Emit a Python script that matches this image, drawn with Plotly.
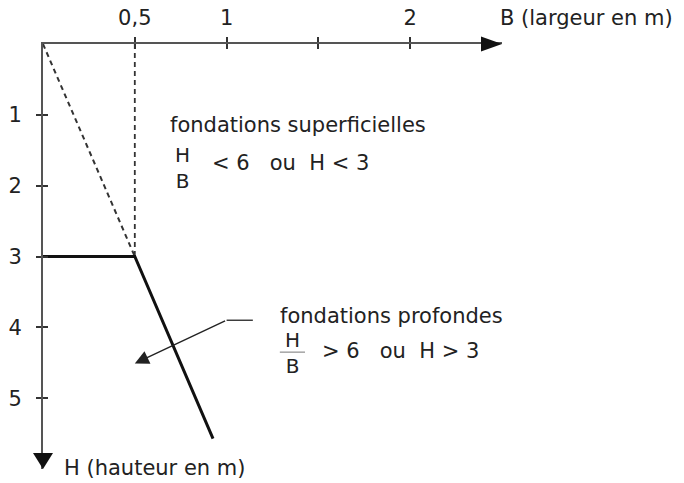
"""
Fondations superficielles / profondes - critere H/B
"""

import plotly.graph_objects as go

# axes
B_ticks = [0.5, 1, 1.5, 2]
B_tick_labels = ["0,5", "1", "", "2"]
H_ticks = [1, 2, 3, 4, 5]
H_tick_labels = ["1", "2", "3", "4", "5"]

# limite H/B = 6 et H = 3
limit_B = [0, 0.5, 0.926]
limit_H = [3, 3, 5.57]

# lignes de construction (pointillés)
ratio_B = [0, 0.5]
ratio_H = [0, 3]
vertical_B = [0.5, 0.5]
vertical_H = [0, 3]

# flèche vers la zone "fondations profondes"
pointer_B = [1.143, 1.0, 0.50]
pointer_H = [3.9, 3.9, 4.51]

INK = "#111111"
AXIS = "#555555"
TEXT = "#222222"
FONT = "DejaVu Sans"

fig = go.Figure()

fig.add_trace(go.Scatter(
    x=ratio_B, y=ratio_H, mode="lines",
    line=dict(color="#333333", width=2, dash="5px,4px"),
    hoverinfo="skip",
))
fig.add_trace(go.Scatter(
    x=vertical_B, y=vertical_H, mode="lines",
    line=dict(color="#333333", width=1.8, dash="5px,4px"),
    hoverinfo="skip",
))
fig.add_trace(go.Scatter(
    x=limit_B, y=limit_H, mode="lines",
    line=dict(color=INK, width=3),
    hoverinfo="skip",
))
fig.add_trace(go.Scatter(
    x=pointer_B[:2], y=pointer_H[:2], mode="lines",
    line=dict(color="#333333", width=1.4),
    hoverinfo="skip",
))
# dummy trace so the overlay axes (crossing ticks) get drawn
fig.add_trace(go.Scatter(x=[None], y=[None], xaxis="x2", yaxis="y2", hoverinfo="skip"))

fig.add_annotation(
    x=pointer_B[2], y=pointer_H[2], ax=pointer_B[1], ay=pointer_H[1],
    xref="x", yref="y", axref="x", ayref="y",
    text="", showarrow=True, arrowhead=2, arrowsize=2, arrowwidth=1.4,
    arrowcolor="#222222",
)

# pointes de flèche des axes
fig.add_shape(type="path", xref="paper", yref="paper",
              xsizemode="pixel", ysizemode="pixel", xanchor=1, yanchor=1,
              path="M0,0 L-21,7.5 L-21,-7.5 Z", fillcolor=INK, line_width=0)
fig.add_shape(type="path", xref="paper", yref="paper",
              xsizemode="pixel", ysizemode="pixel", xanchor=0, yanchor=0,
              path="M0,0 L-10,16 L10,16 Z", fillcolor=INK, line_width=0)

# fraction bar H/B (profondes)
fig.add_shape(type="line", x0=1.29, x1=1.427, y0=4.35, y1=4.35,
              line=dict(color="#777777", width=1))

txt = dict(size=21, color=TEXT, family=FONT)
frac = dict(size=20, color=TEXT, family=FONT)
fig.add_annotation(x=0.991, y=1.061, xref="paper", yref="paper", text="B (largeur en m)",
                   showarrow=False, xanchor="left", yanchor="middle", font=txt)
fig.add_annotation(x=0.041, y=0.0024, xref="paper", yref="paper", text="H (hauteur en m)",
                   showarrow=False, xanchor="left", yanchor="middle", font=txt)

fig.add_annotation(x=0.681, y=1.145, text="fondations superficielles",
                   showarrow=False, xanchor="left", font=txt)
fig.add_annotation(x=0.76, y=1.748, text="H<br>B", showarrow=False, font=frac)
fig.add_annotation(x=0.909, y=1.685, text="&lt; 6   ou  H &lt; 3",
                   showarrow=False, xanchor="left", font=txt)

fig.add_annotation(x=1.279, y=3.84, text="fondations profondes",
                   showarrow=False, xanchor="left", font=txt)
fig.add_annotation(x=1.36, y=4.357, text="H<br>B", showarrow=False, font=frac)
fig.add_annotation(x=1.507, y=4.34, text="&gt; 6   ou  H &gt; 3",
                   showarrow=False, xanchor="left", font=txt)

tick_font = dict(size=21, color=TEXT, family=FONT)
common = dict(showgrid=False, zeroline=False, tickwidth=1.6, tickcolor="#333333",
              ticklen=5, automargin=False)

fig.update_layout(
    width=684, height=483,
    margin=dict(l=43, r=182, t=44, b=14),
    plot_bgcolor="white", paper_bgcolor="white",
    showlegend=False,
    font=dict(family=FONT, color=TEXT),
    xaxis=dict(range=[0, 2.5], side="top", showline=True, linecolor=AXIS, linewidth=2,
               tickvals=B_ticks, ticktext=B_tick_labels, ticks="outside",
               tickfont=tick_font, ticklabelstandoff=4, **common),
    yaxis=dict(range=[6, 0], showline=True, linecolor=AXIS, linewidth=2,
               tickvals=H_ticks, ticktext=H_tick_labels, ticks="outside",
               tickfont=tick_font, ticklabelstandoff=10, **common),
    xaxis2=dict(range=[0, 2.5], overlaying="x", side="top", tickvals=B_ticks,
                ticks="inside", showticklabels=False, showline=False, **common),
    yaxis2=dict(range=[6, 0], overlaying="y", side="left", tickvals=H_ticks,
                ticks="inside", showticklabels=False, showline=False, **common),
)

# drop the default 8px body margin so the figure sits at the page corner
fig.write_html("out.html", config={"displayModeBar": False},
               post_script="document.body.style.margin = '0';")
